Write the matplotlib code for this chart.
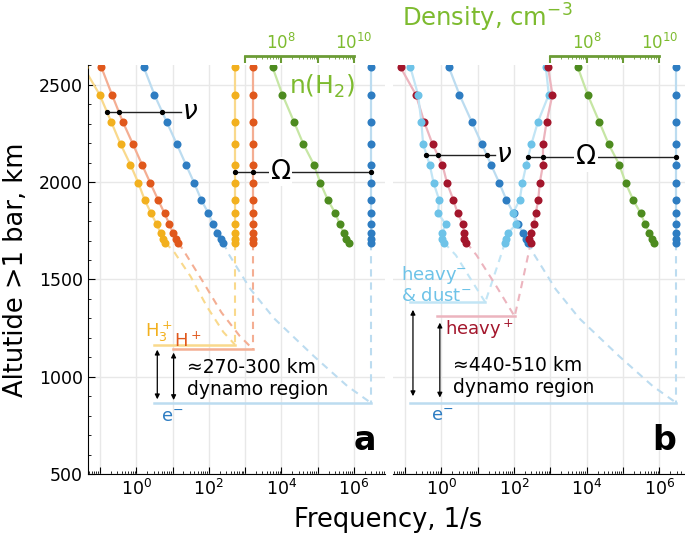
import numpy as np
import matplotlib.pyplot as plt
from matplotlib.ticker import FixedLocator, FuncFormatter, NullFormatter, MultipleLocator

# altitude of the model levels, km above 1 bar
alt = [2590, 2450, 2310, 2195, 2090, 1995, 1910, 1840, 1785, 1740, 1710, 1690]

# panel a, log10 of frequency in 1/s
h3_nu = [-1.45, -1.01, -0.69, -0.43, -0.16, 0.06, 0.23, 0.41, 0.56, 0.67, 0.74, 0.80]
hp_nu = [-0.96, -0.67, -0.37, -0.09, 0.16, 0.39, 0.60, 0.78, 0.91, 1.01, 1.10, 1.16]
e_nu = [0.21, 0.50, 0.84, 1.12, 1.37, 1.60, 1.79, 1.99, 2.12, 2.24, 2.34, 2.40]
h3_om = 2.72
hp_om = 3.21
e_om = 6.46

# log10 of H2 density, cm^-3
nh2 = [7.76, 8.03, 8.35, 8.61, 8.90, 9.08, 9.28, 9.49, 9.61, 9.72, 9.79, 9.86]

# panel b
hvp_nu = [-1.12, -0.70, -0.47, -0.24, 0.03, 0.16, 0.33, 0.45, 0.60, 0.62, 0.62, 0.69]
hvn_nu = [-0.85, -0.64, -0.55, -0.50, -0.32, -0.21, -0.06, -0.09, 0.12, 0.03, 0.01, 0.07]
hvp_om = [2.94, 3.06, 2.90, 2.80, 2.80, 2.71, 2.67, 2.60, 2.55, 2.46, 2.42, 2.46]
hvn_om = [2.88, 2.96, 2.66, 2.48, 2.34, 2.23, 2.16, 1.97, 2.07, 1.84, 1.78, 1.75]

# extrapolations below the data (log10 f, alt)
h3_ext_f = [0.80, 1.05, 1.50, 1.95, 2.40, 2.72]
h3_ext_z = [1690, 1640, 1515, 1360, 1230, 1165]
hp_ext_f = [1.16, 1.35, 1.85, 2.35, 2.85, 3.21]
hp_ext_z = [1690, 1635, 1485, 1330, 1210, 1143]
e_ext_f = [2.40, 2.55, 3.15, 3.80, 4.90, 5.82, 6.46]
e_ext_z = [1690, 1630, 1450, 1300, 1105, 952, 867]
hvn_nu_ext_f = [0.07, 0.40, 0.85, 1.21]
hvn_nu_ext_z = [1690, 1625, 1490, 1383]
hvn_om_ext_f = [1.75, 1.66, 1.21]
hvn_om_ext_z = [1690, 1634, 1383]
hvp_nu_ext_f = [0.69, 0.97, 1.50, 2.02]
hvp_nu_ext_z = [1690, 1625, 1470, 1310]
hvp_om_ext_f = [2.46, 2.42, 2.20, 2.02]
hvp_om_ext_z = [1690, 1650, 1460, 1310]

# boundary levels of the dynamo region: (alt, log10 f start, log10 f end)
lev_h3 = (1165, 0.49, h3_om)
lev_hp = (1143, 1.01, hp_om)
lev_e_a = (867, 0.49, e_om)
lev_hvn = (1383, -0.85, 1.21)
lev_hvp = (1310, -0.12, 2.02)
lev_e_b = (867, -0.85, e_om)

yellow, yellow_l = '#f2b01e', '#f9d98c'
orange, orange_l = '#e0581c', '#f4ae93'
blue, blue_l = '#2e7dc2', '#bcdcf0'
crim, crim_l = '#a3162c', '#ecb4be'
lblue, lblue_l = '#6ec3e8', '#c2e5f5'
green, green_l = '#4d8b1f', '#c6e6a4'
green_t = '#7dbb2f'

plt.rcParams['font.family'] = 'DejaVu Sans'

fig = plt.figure(figsize=(6.85, 5.39), dpi=100)
axa = fig.add_axes([0.1285, 0.1206, 0.4336, 0.7597])
axb = fig.add_axes([0.5737, 0.1206, 0.4263, 0.7597])

F = lambda v: 10 ** np.asarray(v, dtype=float)


def series(ax, f, c, cl):
    ax.plot(F(f), alt, color=cl, lw=1.6, zorder=1)
    ax.plot(F(f), alt, 'o', color=c, ms=5.8, mec='none', zorder=3)


def dashed(ax, f, z, cl):
    ax.plot(F(f), z, ls=(0, (3.5, 2.8)), color=cl, lw=1.5, zorder=1)


def level(ax, lev, cl):
    z, f0, f1 = lev
    ax.plot(F([f0, f1]), [z, z], color=cl, lw=1.8, zorder=1)


def marker_line(ax, z, f0, f1, pts, sym, fsym, white=False):
    ax.plot(F([f0, f1]), [z, z], color='#222222', lw=1.0, zorder=4)
    ax.plot(F(pts), [z] * len(pts), 'o', color='k', ms=2.8, zorder=5)
    kw = dict(ha='center', va='center', fontsize=19, zorder=6)
    if white:
        kw['bbox'] = dict(facecolor='white', edgecolor='none', pad=1)
    ax.text(10 ** fsym, z, sym, **kw)


for ax in (axa, axb):
    ax.set_xscale('log')
    ax.set_ylim(500, 2605)
    ax.xaxis.set_major_locator(FixedLocator(10.0 ** np.arange(-1, 7)))
    ax.xaxis.set_major_formatter(FuncFormatter(
        lambda v, p: '$10^{%d}$' % round(np.log10(v)) if round(np.log10(v)) % 2 == 0 else ''))
    ax.xaxis.set_minor_locator(FixedLocator(
        [m * 10.0 ** k for k in range(-2, 7) for m in range(2, 10)]))
    ax.xaxis.set_minor_formatter(NullFormatter())
    ax.yaxis.set_major_locator(MultipleLocator(500))
    ax.yaxis.set_minor_locator(MultipleLocator(100))
    ax.tick_params(which='both', direction='in', top=False, right=False, labelsize=12.5)
    ax.tick_params(which='major', length=5)
    ax.tick_params(which='minor', length=2.5)
    ax.tick_params(axis='y', labelsize=12.5)
    ax.grid(True, which='major', color='#e8e8e8', lw=1.0, zorder=0)
    ax.set_axisbelow(True)
    for s in ('top', 'right'):
        ax.spines[s].set_visible(False)

axa.set_xlim(10 ** -1.33, 10 ** 6.86)
axb.set_xlim(10 ** -1.33, 10 ** 6.71)
axb.spines['left'].set_visible(False)
axb.tick_params(axis='y', which='both', left=False, labelleft=False)

# ---- panel a
ax = axa
dashed(ax, h3_ext_f, h3_ext_z, yellow_l)
dashed(ax, hp_ext_f, hp_ext_z, orange_l)
dashed(ax, e_ext_f, e_ext_z, blue_l)
dashed(ax, [h3_om, h3_om], [alt[-1], lev_h3[0]], yellow_l)
dashed(ax, [hp_om, hp_om], [alt[-1], lev_hp[0]], orange_l)
dashed(ax, [e_om, e_om], [alt[-1], lev_e_a[0]], blue_l)
level(ax, lev_h3, yellow_l)
level(ax, lev_hp, orange_l)
level(ax, lev_e_a, blue_l)
series(ax, h3_nu, yellow, yellow_l)
series(ax, hp_nu, orange, orange_l)
series(ax, e_nu, blue, blue_l)
series(ax, [h3_om] * len(alt), yellow, yellow_l)
series(ax, [hp_om] * len(alt), orange, orange_l)
series(ax, [e_om] * len(alt), blue, blue_l)
series(ax, np.array(nh2) - 4, green, green_l)

z_nu = 2360
pts = [np.interp(z_nu, alt[::-1], s[::-1]) for s in (h3_nu, hp_nu, e_nu)]
marker_line(ax, z_nu, pts[0], 1.23, pts, r'$\nu$', 1.48)
marker_line(ax, 2055, h3_om, e_om, [h3_om, hp_om, e_om], r'$\Omega$', 3.98, white=True)

ax.text(10 ** 4.2, 2490, r'n(H$_2$)', color=green_t, fontsize=18, va='center', ha='left')
ax.text(10 ** 0.25, 1205, r'H$_3^+$', color=yellow, fontsize=13, va='baseline')
ax.text(10 ** 1.04, 1153, r'H$^+$', color=orange, fontsize=13, va='baseline')
ax.text(10 ** 0.69, 768, r'e$^{-}$', color=blue, fontsize=13, va='baseline')
ax.text(10 ** 1.40, 1095, '≈270-300 km\ndynamo region', fontsize=13.5, va='top', ha='left')
for x, top, bot in ((0.58, 1139, 884), (1.03, 1124, 880)):
    ax.annotate('', xy=(10 ** x, bot), xytext=(10 ** x, top),
                arrowprops=dict(arrowstyle='<|-|>', color='k', lw=0.9,
                                mutation_scale=7, shrinkA=0, shrinkB=0))
ax.text(0.933, 0.083, 'a', transform=ax.transAxes, fontsize=24,
        fontweight='bold', ha='center', va='center')

# ---- panel b
ax = axb
dashed(ax, hvn_nu_ext_f, hvn_nu_ext_z, lblue_l)
dashed(ax, hvn_om_ext_f, hvn_om_ext_z, lblue_l)
dashed(ax, hvp_nu_ext_f, hvp_nu_ext_z, crim_l)
dashed(ax, hvp_om_ext_f, hvp_om_ext_z, crim_l)
dashed(ax, e_ext_f, e_ext_z, blue_l)
dashed(ax, [e_om, e_om], [alt[-1], lev_e_b[0]], blue_l)
level(ax, lev_hvn, lblue_l)
level(ax, lev_hvp, crim_l)
level(ax, lev_e_b, blue_l)
series(ax, e_nu, blue, blue_l)
series(ax, hvn_om, lblue, lblue_l)
series(ax, hvp_om, crim, crim_l)
series(ax, hvp_nu, crim, crim_l)
series(ax, hvn_nu, lblue, lblue_l)
series(ax, [e_om] * len(alt), blue, blue_l)
series(ax, np.array(nh2) - 4, green, green_l)

z_nu = 2142
pts = [np.interp(z_nu, alt[::-1], s[::-1]) for s in (hvn_nu, hvp_nu, e_nu)]
marker_line(ax, z_nu, pts[0], 1.47, pts, r'$\nu$', 1.74)
z_om = 2128
pts = [np.interp(z_om, alt[::-1], s[::-1]) for s in (hvn_om, hvp_om)] + [e_om]
marker_line(ax, z_om, pts[0], e_om, pts, r'$\Omega$', 3.98, white=True)

ax.text(10 ** -1.10, 1580, 'heavy$^{-}$\n& dust$^{-}$', color=lblue, fontsize=13,
        va='top', ha='left', linespacing=1.1)
ax.text(10 ** 0.10, 1216, 'heavy$^+$', color=crim, fontsize=13, va='baseline')
ax.text(10 ** -0.27, 773, r'e$^{-}$', color=blue, fontsize=13, va='baseline')
ax.text(10 ** 0.31, 1105, '≈440-510 km\ndynamo region', fontsize=13.5, va='top', ha='left')
for x, top, bot in ((-0.78, 1344, 900), (-0.04, 1278, 893)):
    ax.annotate('', xy=(10 ** x, bot), xytext=(10 ** x, top),
                arrowprops=dict(arrowstyle='<|-|>', color='k', lw=0.9,
                                mutation_scale=7, shrinkA=0, shrinkB=0))
ax.text(0.93, 0.083, 'b', transform=ax.transAxes, fontsize=24,
        fontweight='bold', ha='center', va='center')

# density axes on top
for ax in (axa, axb):
    sec = ax.secondary_xaxis('top', functions=(lambda f: f * 1e4, lambda d: d / 1e4))
    sec.spines['top'].set_position(('outward', 6))
    sec.spines['top'].set_bounds(1e7, 1e10)
    sec.spines['top'].set_color('#6b9c35')
    sec.spines['top'].set_linewidth(2)
    sec.xaxis.set_major_locator(FixedLocator([1e7, 1e8, 1e9, 1e10]))
    sec.xaxis.set_major_formatter(FuncFormatter(
        lambda v, p: '$10^{%d}$' % round(np.log10(v)) if round(np.log10(v)) in (8, 10) else ''))
    sec.xaxis.set_minor_locator(FixedLocator(
        [m * 10.0 ** k for k in range(7, 10) for m in range(2, 10)]))
    sec.xaxis.set_minor_formatter(NullFormatter())
    sec.tick_params(which='both', direction='in', color='#6b9c35', labelcolor=green_t,
                    labelsize=12, pad=2)
    sec.tick_params(which='major', length=5, width=1.5)
    sec.tick_params(which='minor', length=2.5)

fig.text(0.712, 0.966, 'Density, cm$^{-3}$', color=green_t, fontsize=17.5, ha='center', va='center')
fig.text(0.566, 0.035, 'Frequency, 1/s', fontsize=18.5, ha='center', va='center')
fig.text(0.024, 0.5, 'Altutide >1 bar, km', fontsize=18.5, rotation=90, ha='center', va='center')

fig.savefig('out.png', dpi=100)
